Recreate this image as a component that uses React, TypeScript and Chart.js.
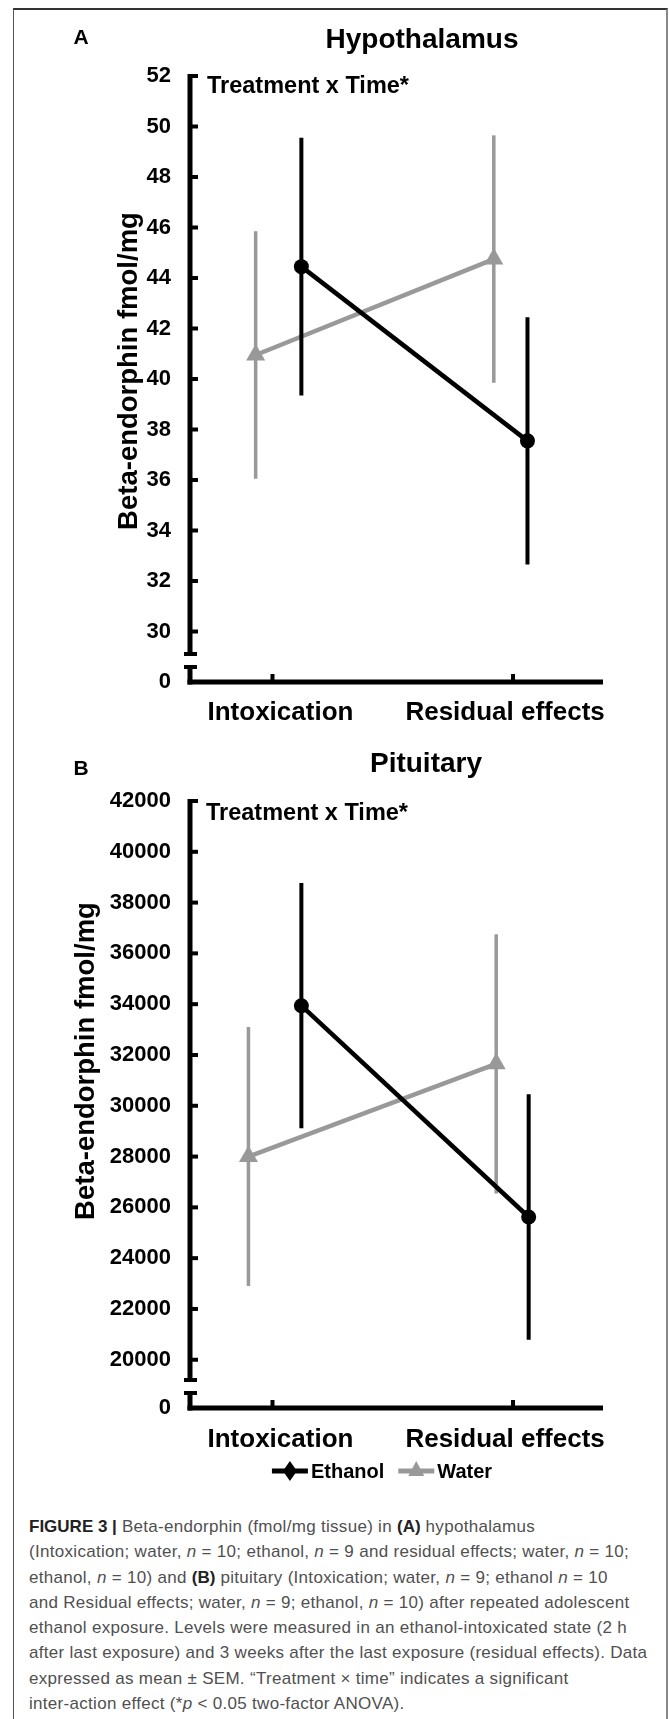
import React, { useEffect, useRef } from 'react';
import { Chart, registerables } from 'chart.js';

Chart.register(...registerables);

const FONT = '"Liberation Sans", Arial, Helvetica, sans-serif';
Chart.defaults.font.family = FONT;

// ---------------- data ----------------
const categories = ['Intoxication', 'Residual effects'];
const seriesLabels = ['Ethanol', 'Water'];

// Panel A: Hypothalamus (fmol/mg), mean and SEM
const hypoEthanolMean = [44.45, 37.55];
const hypoEthanolSem = [5.1, 4.9];
const hypoWaterMean = [40.95, 44.75];
const hypoWaterSem = [4.9, 4.9];
const hypoTickValues = [30, 32, 34, 36, 38, 40, 42, 44, 46, 48, 50, 52];
const hypoBreakValue = 28; // floor of the broken axis, labelled "0"

// Panel B: Pituitary (fmol/mg), mean and SEM
const pitEthanolMean = [33940, 25620];
const pitEthanolSem = [4830, 4830];
const pitWaterMean = [28000, 31650];
const pitWaterSem = [5100, 5100];
const pitTickValues = [20000, 22000, 24000, 26000, 28000, 30000, 32000, 34000, 36000, 38000, 40000, 42000];
const pitBreakValue = 18100; // floor of the broken axis, labelled "0"

const breakLabel = '0';
const yAxisTitle = 'Beta-endorphin fmol/mg';
const noteText = 'Treatment x Time*';

// ---------------- styles ----------------
const BLACK = '#000000';
const GRAY = '#999999';
const labelNudge = [0.033, -0.033]; // horizontal nudge of category labels (axis units)

type Spec = {
  letter: string; title: string;
  ethMean: number[]; ethSem: number[]; watMean: number[]; watSem: number[];
  ticks: number[]; floor: number;
  ethDodge: number[]; watDodge: number[];
  top: number; height: number; padTop: number; xAxisHeight: number; labelPad: number;
  letterPos: [number, number]; titlePos: [number, number]; notePos: [number, number];
  yTitlePos: [number, number]; legend: boolean;
};

const panelA: Spec = {
  letter: 'A', title: 'Hypothalamus',
  ethMean: hypoEthanolMean, ethSem: hypoEthanolSem, watMean: hypoWaterMean, watSem: hypoWaterSem,
  ticks: hypoTickValues, floor: hypoBreakValue,
  ethDodge: [0.12, 0.06], watDodge: [-0.07, -0.08],
  top: 0, height: 730, padTop: 76, xAxisHeight: 48, labelPad: 7,
  letterPos: [81, 44], titlePos: [422, 48], notePos: [207, 93], yTitlePos: [129, 371], legend: false,
};

const panelB: Spec = {
  letter: 'B', title: 'Pituitary',
  ethMean: pitEthanolMean, ethSem: pitEthanolSem, watMean: pitWaterMean, watSem: pitWaterSem,
  ticks: pitTickValues, floor: pitBreakValue,
  ethDodge: [0.12, 0.065], watDodge: [-0.1, -0.07],
  top: 730, height: 770, padTop: 71, xAxisHeight: 92, labelPad: 8,
  letterPos: [81, 45], titlePos: [426, 42], notePos: [206, 90], yTitlePos: [86, 331], legend: true,
};

function line(ctx: CanvasRenderingContext2D, x1: number, y1: number, x2: number, y2: number) {
  ctx.beginPath();
  ctx.moveTo(x1, y1);
  ctx.lineTo(x2, y2);
  ctx.stroke();
}

const brokenAxisPlugin = {
  id: 'brokenAxis',
  beforeDatasetsDraw(chart: any) {
    const { ctx, chartArea } = chart;
    const { left, right, top, bottom } = chartArea;
    const y = chart.scales.y;
    const x = chart.scales.x;
    ctx.save();
    ctx.strokeStyle = BLACK;
    ctx.lineCap = 'butt';
    const brk1 = bottom - 28;
    const brk2 = bottom - 15;
    ctx.lineWidth = 5;
    line(ctx, left, top - 2, left, brk1);
    line(ctx, left, brk2, left, bottom + 2.5);
    line(ctx, left - 2.5, bottom, right, bottom);
    ctx.lineWidth = 4;
    line(ctx, left - 6, brk1, left + 7, brk1);
    line(ctx, left - 6, brk2, left + 7, brk2);
    y.ticks.forEach((t: any) => {
      if (t.value === y.min) return;
      const py = y.getPixelForValue(t.value);
      line(ctx, left, py, left + 8, py);
    });
    categories.forEach((_, i) => {
      const px = x.getPixelForValue(i + 1);
      line(ctx, px, bottom, px, bottom - 8);
    });
    ctx.restore();
  },
};

const errorBarPlugin = {
  id: 'semBars',
  afterDatasetDraw(chart: any, args: any) {
    const ds = chart.data.datasets[args.index];
    const sem: number[] | undefined = ds.sem;
    if (!sem) return;
    const { ctx } = chart;
    const y = chart.scales.y;
    ctx.save();
    ctx.strokeStyle = ds.borderColor;
    ctx.lineWidth = ds.errorBarWidth;
    ctx.lineCap = 'butt';
    args.meta.data.forEach((pt: any, i: number) => {
      const v = ds.data[i].y;
      line(ctx, pt.x, y.getPixelForValue(v + sem[i]), pt.x, y.getPixelForValue(v - sem[i]));
    });
    ctx.restore();
  },
};

function makeTextPlugin(spec: Spec) {
  return {
    id: 'panelText',
    afterDraw(chart: any) {
      const { ctx } = chart;
      ctx.save();
      ctx.fillStyle = BLACK;
      ctx.textBaseline = 'alphabetic';
      ctx.textAlign = 'center';
      ctx.font = `bold 21px ${FONT}`;
      ctx.fillText(spec.letter, spec.letterPos[0], spec.letterPos[1]);
      ctx.font = `bold 28px ${FONT}`;
      ctx.fillText(spec.title, spec.titlePos[0], spec.titlePos[1]);
      ctx.textAlign = 'left';
      ctx.font = `bold 23.5px ${FONT}`;
      ctx.fillText(noteText, spec.notePos[0], spec.notePos[1]);
      ctx.save();
      ctx.translate(spec.yTitlePos[0], spec.yTitlePos[1]);
      ctx.rotate(-Math.PI / 2);
      ctx.textAlign = 'center';
      ctx.textBaseline = 'middle';
      ctx.font = `bold 27.5px ${FONT}`;
      ctx.fillText(yAxisTitle, 0, 0);
      ctx.restore();

      if (spec.legend) {
        const cy = 741;
        ctx.font = `bold 20px ${FONT}`;
        ctx.textBaseline = 'middle';
        ctx.textAlign = 'left';
        const items = chart.data.datasets.map((ds: any) => ({
          label: ds.label, color: ds.borderColor, style: ds.pointStyle,
          w: ctx.measureText(ds.label).width,
        }));
        const symW = 36, gap1 = 3, gap2 = 14;
        const total = items.reduce((s: number, it: any) => s + symW + gap1 + it.w, 0) + gap2 * (items.length - 1);
        let cx = 382 - total / 2;
        items.forEach((it: any) => {
          ctx.strokeStyle = it.color;
          ctx.fillStyle = it.color;
          ctx.lineWidth = 5;
          line(ctx, cx, cy, cx + symW, cy);
          const mx = cx + symW / 2;
          ctx.beginPath();
          if (it.style === 'triangle') {
            ctx.moveTo(mx, cy - 10);
            ctx.lineTo(mx + 8, cy + 5);
            ctx.lineTo(mx - 8, cy + 5);
          } else {
            ctx.moveTo(mx, cy - 10);
            ctx.lineTo(mx + 7, cy);
            ctx.lineTo(mx, cy + 10);
            ctx.lineTo(mx - 7, cy);
          }
          ctx.closePath();
          ctx.fill();
          ctx.fillStyle = BLACK;
          ctx.fillText(it.label, cx + symW + gap1, cy + 1);
          cx += symW + gap1 + it.w + gap2;
        });
      }
      ctx.restore();
    },
  };
}

function makeConfig(spec: Spec): any {
  return {
    type: 'line',
    data: {
      datasets: [
        {
          label: seriesLabels[0],
          data: categories.map((_, i) => ({ x: i + 1 + spec.ethDodge[i], y: spec.ethMean[i] })),
          sem: spec.ethSem,
          errorBarWidth: 4,
          borderColor: BLACK,
          backgroundColor: BLACK,
          borderWidth: 4.5,
          pointStyle: 'circle',
          pointRadius: 7.5,
          pointBorderWidth: 0,
          pointBackgroundColor: BLACK,
        },
        {
          label: seriesLabels[1],
          data: categories.map((_, i) => ({ x: i + 1 + spec.watDodge[i], y: spec.watMean[i] })),
          sem: spec.watSem,
          errorBarWidth: 3.5,
          borderColor: GRAY,
          backgroundColor: GRAY,
          borderWidth: 4.5,
          pointStyle: 'triangle',
          pointRadius: 11,
          pointBorderWidth: 0,
          pointBackgroundColor: GRAY,
        },
      ],
    },
    options: {
      animation: false,
      responsive: false,
      devicePixelRatio: 1,
      layout: { padding: { top: spec.padTop, right: 66, left: 0, bottom: 0 } },
      plugins: { legend: { display: false }, tooltip: { enabled: false } },
      scales: {
        x: {
          type: 'linear',
          min: 0.657,
          max: 2.374,
          grid: { display: false },
          border: { display: false },
          afterBuildTicks: (s: any) => {
            s.ticks = categories.map((_, i) => ({ value: i + 1 + labelNudge[i] }));
          },
          ticks: {
            callback: (_v: any, idx: number) => categories[idx] ?? '',
            font: { size: 26, weight: 'bold' },
            color: BLACK,
            padding: spec.labelPad,
            maxRotation: 0,
            autoSkip: false,
          },
          afterFit: (s: any) => {
            s.height = spec.xAxisHeight;
          },
        },
        y: {
          type: 'linear',
          min: spec.floor,
          max: spec.ticks[spec.ticks.length - 1],
          grid: { display: false },
          border: { display: false },
          afterBuildTicks: (s: any) => {
            s.ticks = [spec.floor, ...spec.ticks].map((v) => ({ value: v }));
          },
          ticks: {
            callback: (v: any) => (v === spec.floor ? breakLabel : String(v)),
            font: { size: 22, weight: 'bold' },
            color: BLACK,
            padding: 11,
          },
          afterFit: (s: any) => {
            s.width = 190;
          },
        },
      },
    },
    plugins: [brokenAxisPlugin, errorBarPlugin, makeTextPlugin(spec)],
  };
}

function PanelChart({ spec }: { spec: Spec }) {
  const ref = useRef<HTMLCanvasElement>(null);
  useEffect(() => {
    if (!ref.current) return;
    const chart = new Chart(ref.current, makeConfig(spec));
    return () => chart.destroy();
  }, [spec]);
  return (
    <canvas
      ref={ref}
      width={669}
      height={spec.height}
      style={{ position: 'absolute', left: 0, top: spec.top, width: 669, height: spec.height }}
    />
  );
}

const captionStyle: React.CSSProperties = {
  position: 'absolute',
  left: 29,
  top: 1514,
  fontFamily: FONT,
  fontSize: 17,
  letterSpacing: '0.3px',
  lineHeight: '25.3px',
  color: '#505050',
  whiteSpace: 'nowrap',
};

export default function App() {
  const b = { fontWeight: 'bold' as const, color: '#222', letterSpacing: '0px' };
  return (
    <div style={{ position: 'absolute', left: 0, top: 0, width: 669, height: 1719, background: '#fff', overflow: 'hidden' }}>
      <div
        style={{
          position: 'absolute', left: 13, top: 8, width: 655, height: 1740, boxSizing: 'border-box',
          borderTop: '2px solid #333', borderLeft: '1px solid #555', borderRight: '2px solid #888',
        }}
      />
      <PanelChart spec={panelA} />
      <PanelChart spec={panelB} />
      <div style={captionStyle}>
        <div><span style={b}>FIGURE 3 |</span> Beta-endorphin (fmol/mg tissue) in <span style={b}>(A)</span> hypothalamus</div>
        <div>(Intoxication; water, <i>n</i> = 10; ethanol, <i>n</i> = 9 and residual effects; water, <i>n</i> = 10;</div>
        <div>ethanol, <i>n</i> = 10) and <span style={b}>(B)</span> pituitary (Intoxication; water, <i>n</i> = 9; ethanol <i>n</i> = 10</div>
        <div>and Residual effects; water, <i>n</i> = 9; ethanol, <i>n</i> = 10) after repeated adolescent</div>
        <div>ethanol exposure. Levels were measured in an ethanol-intoxicated state (2 h</div>
        <div>after last exposure) and 3 weeks after the last exposure (residual effects). Data</div>
        <div>expressed as mean ± SEM. “Treatment × time” indicates a significant</div>
        <div>inter-action effect (*<i>p</i> &lt; 0.05 two-factor ANOVA).</div>
      </div>
    </div>
  );
}
